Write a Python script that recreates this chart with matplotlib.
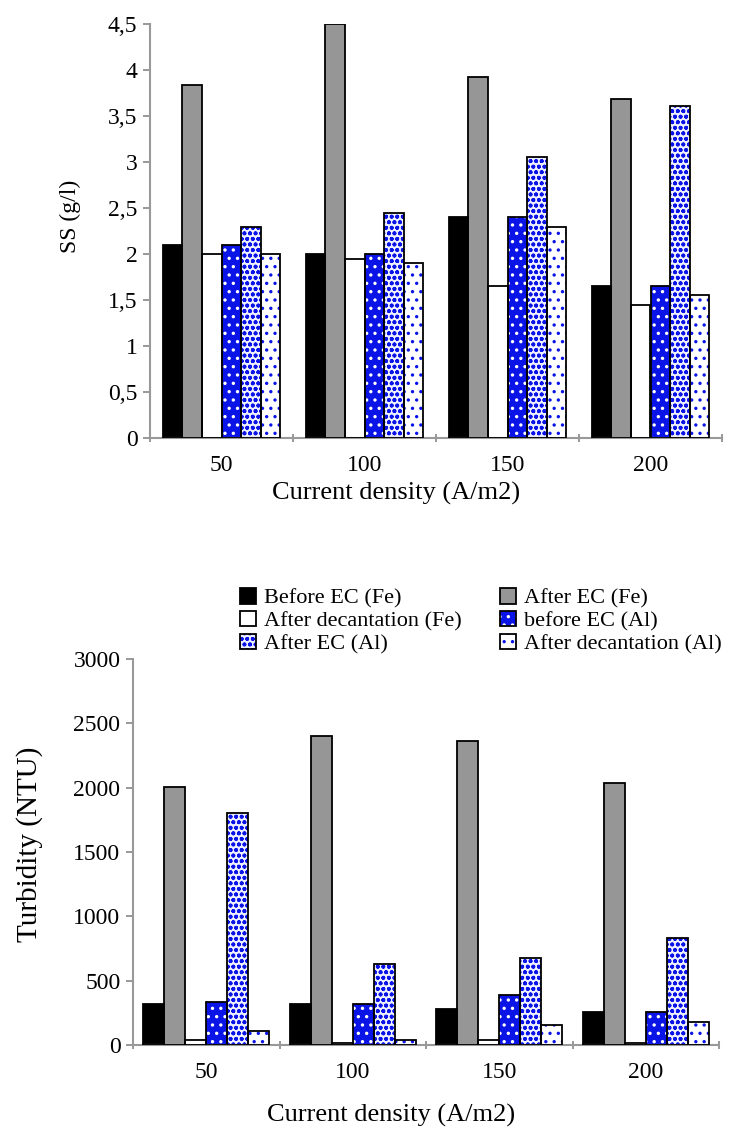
import matplotlib
matplotlib.use("Agg")
import matplotlib.pyplot as plt
from matplotlib.patches import Patch
import numpy as np

plt.rcParams['font.family'] = ['Liberation Serif', 'DejaVu Serif']
plt.rcParams['hatch.linewidth'] = 1.2

categories = ['50', '100', '150', '200']
series_names = ['Before EC (Fe)', 'After EC (Fe)', 'After decantation (Fe)',
                'before EC (Al)', 'After EC (Al)', 'After decantation (Al)']

ss_before_fe = [2.1, 2.0, 2.4, 1.65]
ss_after_fe = [3.84, 4.5, 3.92, 3.68]
ss_decant_fe = [2.0, 1.95, 1.65, 1.45]
ss_before_al = [2.1, 2.0, 2.4, 1.65]
ss_after_al = [2.29, 2.45, 3.05, 3.61]
ss_decant_al = [2.0, 1.9, 2.29, 1.55]

turb_before_fe = [322, 320, 277, 254]
turb_after_fe = [2008, 2405, 2360, 2035]
turb_decant_fe = [40, 15, 40, 15]
turb_before_al = [332, 318, 386, 259]
turb_after_al = [1800, 630, 680, 830]
turb_decant_al = [110, 38, 153, 180]

ss_ticks = [0, 0.5, 1, 1.5, 2, 2.5, 3, 3.5, 4, 4.5]
ss_ticklabels = ['0', '0,5', '1', '1,5', '2', '2,5', '3', '3,5', '4', '4,5']
turb_ticks = [0, 500, 1000, 1500, 2000, 2500, 3000]

BLUE = '#0a14e6'
GRAY = '#969696'

styles = [
    dict(face='black', hatch=None, hcol=None),
    dict(face=GRAY, hatch=None, hcol=None),
    dict(face='white', hatch=None, hcol=None),
    dict(face=BLUE, hatch='..', hcol='white'),
    dict(face='#eef0ff', hatch='ooo', hcol=BLUE),
    dict(face='white', hatch='..', hcol=BLUE),
]

fig = plt.figure(figsize=(7.42, 11.38), dpi=100)
ax1 = fig.add_axes([150/742, 1-438/1138, 572/742, 414/1138])
ax2 = fig.add_axes([133/742, 1-1045/1138, 586/742, 386/1138])

TICK = 17

def draw(ax, data, ymax, width):
    x = np.arange(len(categories))
    n = len(data)
    handles = []
    for i, (vals, st) in enumerate(zip(data, styles)):
        pos = x - width*n/2 + width*(i+0.5)
        if st['hatch']:
            ax.bar(pos, vals, width, color=st['face'], hatch=st['hatch'],
                   edgecolor=st['hcol'], linewidth=0, zorder=2)
            h = Patch(facecolor=st['face'], hatch=st['hatch'], edgecolor=st['hcol'], linewidth=0)
        else:
            ax.bar(pos, vals, width, color=st['face'], linewidth=0, zorder=2)
            h = Patch(facecolor=st['face'], linewidth=0)
        ax.bar(pos, vals, width, fill=False, edgecolor='black', linewidth=1.3, zorder=3)
        hb = Patch(fill=False, edgecolor='black', linewidth=1.3)
        handles.append((h, hb))
    ax.set_xlim(-0.5, len(categories)-0.5)
    ax.set_ylim(0, ymax)
    ax.set_xticks(np.arange(len(categories)+1) - 0.5)
    ax.set_xticklabels([])
    ax.set_xticks(x, minor=True)
    ax.set_xticklabels(categories, minor=True)
    ax.tick_params(axis='x', which='major', length=6, direction='inout', color='#888888', width=1.2)
    ax.tick_params(axis='x', which='minor', length=0, labelsize=TICK, pad=12)
    ax.tick_params(axis='y', length=5, direction='out', color='#888888', width=1.2, labelsize=TICK, pad=4)
    for s in ['top', 'right']:
        ax.spines[s].set_visible(False)
    for s in ['left', 'bottom']:
        ax.spines[s].set_color('#999999')
        ax.spines[s].set_linewidth(1.5)
    return handles

draw(ax1, [ss_before_fe, ss_after_fe, ss_decant_fe, ss_before_al, ss_after_al, ss_decant_al], 4.5, 0.137)
ax1.set_yticks(ss_ticks)
ax1.set_yticklabels(ss_ticklabels)
ax1.set_ylabel('SS (g/l)', fontsize=17)
ax1.yaxis.set_label_coords((70-150)/572, 0.535)
ax1.set_xlabel('Current density (A/m2)', fontsize=19)
ax1.xaxis.set_label_coords(0.43, (438-493)/414)
ax1.xaxis.label.set_va('center')
ax1.yaxis.label.set_va('center')

handles = draw(ax2, [turb_before_fe, turb_after_fe, turb_decant_fe, turb_before_al, turb_after_al, turb_decant_al], 3000, 0.143)
ax2.set_yticks(turb_ticks)
ax2.set_yticklabels([str(t) for t in turb_ticks])
ax2.set_ylabel('Turbidity (NTU)', fontsize=21)
ax2.yaxis.set_label_coords((30-133)/586, 0.52)
ax2.yaxis.label.set_va('center')
ax2.set_xlabel('Current density (A/m2)', fontsize=19)
ax2.xaxis.set_label_coords(0.44, (1045-1115)/386)
ax2.xaxis.label.set_va('center')

order = [0, 2, 4, 1, 3, 5]
fig.legend([handles[i] for i in order], [series_names[i] for i in order],
           ncol=2, loc='upper left', bbox_to_anchor=(240/742, 1-588/1138),
           frameon=False, fontsize=16, handlelength=0.7, handleheight=0.7,
           handletextpad=0.4, columnspacing=1.7, labelspacing=0.1,
           borderaxespad=0, borderpad=0)

fig.savefig('out.png', dpi=100, facecolor='white')
